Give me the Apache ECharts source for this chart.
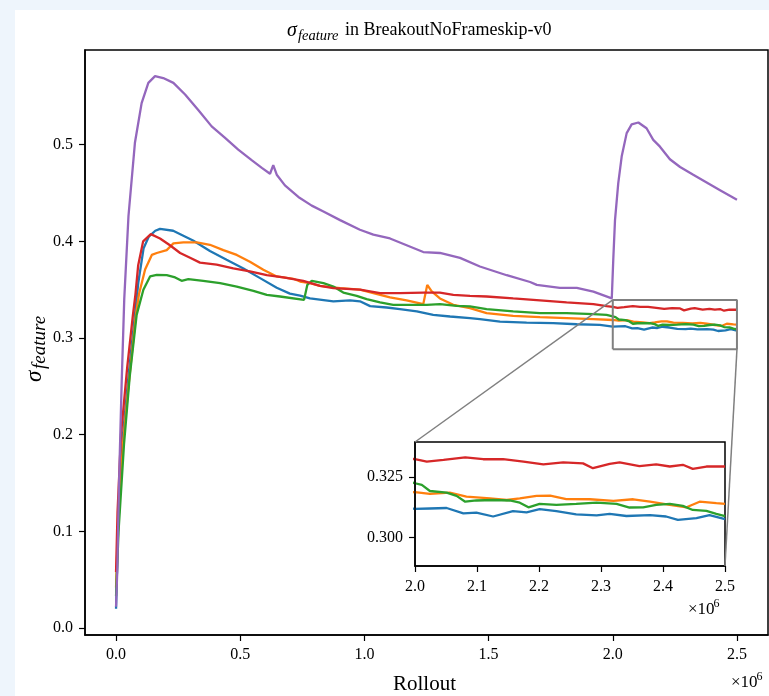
<!DOCTYPE html>
<html><head><meta charset="utf-8">
<script src="https://cdn.jsdelivr.net/npm/echarts@6/dist/echarts.min.js"></script>
<style>
html,body{margin:0;padding:0;background:#eef5fc;overflow:hidden;}
#bg{position:absolute;left:15px;top:10px;width:754px;height:686px;background:#fff;}
#chart{position:absolute;left:0;top:0;width:769px;height:696px;}
</style></head><body><div id="bg"></div><div id="chart"></div>
<script>
// x values in units of 1e6 rollouts
const blueData = [[0,0.020],[0.008,0.10],[0.028,0.20],[0.05,0.26],[0.076,0.324],[0.09,0.358],[0.111,0.393],[0.132,0.405],[0.158,0.411],[0.177,0.413],[0.23,0.411],[0.31,0.401],[0.378,0.39],[0.445,0.381],[0.513,0.372],[0.58,0.362],[0.647,0.352],[0.7,0.346],[0.741,0.344],[0.781,0.341],[0.875,0.338],[0.942,0.339],[0.982,0.338],[1.023,0.333],[1.09,0.3316],[1.143,0.330],[1.211,0.3277],[1.277,0.324],[1.345,0.3223],[1.425,0.3206],[1.465,0.3195],[1.546,0.317],[1.653,0.316],[1.76,0.3154],[1.855,0.3143],[1.948,0.3137],[2.0,0.3118],[2.024,0.312],[2.051,0.3122],[2.078,0.310],[2.099,0.3103],[2.126,0.3087],[2.158,0.3109],[2.18,0.3104],[2.201,0.3117],[2.228,0.3109],[2.26,0.3096],[2.293,0.3092],[2.314,0.3098],[2.341,0.3089],[2.379,0.3093],[2.405,0.3087],[2.424,0.3073],[2.454,0.308],[2.475,0.3093],[2.5,0.3076]];
const orangeData = [[0,0.042],[0.01,0.12],[0.028,0.19],[0.05,0.25],[0.08,0.324],[0.092,0.345],[0.117,0.371],[0.144,0.386],[0.164,0.388],[0.204,0.391],[0.231,0.398],[0.271,0.399],[0.325,0.399],[0.378,0.3965],[0.432,0.391],[0.486,0.386],[0.539,0.379],[0.593,0.3706],[0.647,0.3637],[0.714,0.3613],[0.741,0.3585],[0.781,0.3568],[0.821,0.354],[0.902,0.3516],[0.982,0.350],[1.036,0.3465],[1.103,0.342],[1.17,0.3389],[1.237,0.3351],[1.253,0.355],[1.271,0.3482],[1.304,0.341],[1.358,0.3344],[1.425,0.331],[1.492,0.3258],[1.599,0.323],[1.707,0.3216],[1.814,0.3206],[1.922,0.3195],[2.0,0.3187],[2.024,0.318],[2.056,0.3185],[2.083,0.3169],[2.121,0.3162],[2.148,0.3155],[2.169,0.3162],[2.196,0.3172],[2.218,0.3173],[2.244,0.3159],[2.282,0.3158],[2.32,0.3151],[2.352,0.3158],[2.379,0.3148],[2.411,0.3135],[2.438,0.3125],[2.459,0.3148],[2.486,0.3142],[2.5,0.3139]];
const greenData = [[0,0.033],[0.01,0.10],[0.032,0.19],[0.055,0.26],[0.083,0.324],[0.11,0.35],[0.137,0.3637],[0.164,0.3654],[0.204,0.365],[0.238,0.3627],[0.264,0.3592],[0.291,0.361],[0.351,0.3592],[0.419,0.3568],[0.486,0.3533],[0.553,0.3489],[0.607,0.3447],[0.66,0.343],[0.757,0.3395],[0.770,0.355],[0.788,0.3592],[0.835,0.3568],[0.875,0.3533],[0.915,0.3471],[0.969,0.3437],[1.009,0.3402],[1.063,0.3368],[1.116,0.3344],[1.184,0.3344],[1.251,0.3344],[1.304,0.3351],[1.371,0.3333],[1.425,0.3327],[1.492,0.33],[1.599,0.3277],[1.707,0.3258],[1.814,0.3258],[1.922,0.3248],[1.975,0.324],[2.0,0.3224],[2.011,0.3217],[2.024,0.3192],[2.051,0.3185],[2.067,0.3172],[2.081,0.3148],[2.099,0.3153],[2.126,0.3155],[2.153,0.3153],[2.169,0.3144],[2.183,0.3125],[2.201,0.3139],[2.228,0.3135],[2.26,0.3139],[2.293,0.3144],[2.325,0.3139],[2.346,0.3124],[2.368,0.3125],[2.389,0.3135],[2.411,0.3139],[2.432,0.3131],[2.448,0.3114],[2.47,0.311],[2.486,0.3098],[2.5,0.3089]];
const redData = [[0,0.058],[0.006,0.12],[0.02,0.20],[0.045,0.27],[0.068,0.324],[0.078,0.345],[0.089,0.375],[0.109,0.40],[0.14,0.4075],[0.177,0.403],[0.217,0.396],[0.258,0.388],[0.298,0.383],[0.338,0.378],[0.405,0.376],[0.472,0.372],[0.539,0.369],[0.607,0.365],[0.674,0.3627],[0.754,0.3592],[0.821,0.354],[0.875,0.3516],[0.982,0.350],[1.063,0.3465],[1.143,0.3465],[1.237,0.347],[1.304,0.347],[1.358,0.3447],[1.425,0.3437],[1.492,0.343],[1.599,0.341],[1.707,0.339],[1.814,0.337],[1.922,0.335],[1.975,0.333],[2.0,0.3323],[2.019,0.3313],[2.046,0.332],[2.081,0.3331],[2.11,0.3323],[2.142,0.3323],[2.175,0.3313],[2.207,0.3302],[2.239,0.331],[2.271,0.3306],[2.287,0.3286],[2.314,0.3304],[2.33,0.331],[2.362,0.3295],[2.389,0.3302],[2.411,0.3293],[2.432,0.33],[2.448,0.3283],[2.47,0.3293],[2.5,0.3293]];
const purpleData = [[0,0.022],[0.005,0.06],[0.012,0.15],[0.023,0.257],[0.033,0.34],[0.05,0.426],[0.076,0.502],[0.103,0.543],[0.13,0.564],[0.157,0.571],[0.19,0.569],[0.231,0.564],[0.278,0.552],[0.331,0.536],[0.385,0.519],[0.439,0.507],[0.492,0.495],[0.546,0.484],[0.587,0.476],[0.62,0.470],[0.633,0.479],[0.647,0.469],[0.68,0.458],[0.734,0.446],[0.788,0.437],[0.835,0.431],[0.902,0.422],[0.982,0.412],[1.036,0.407],[1.103,0.403],[1.17,0.396],[1.237,0.389],[1.304,0.388],[1.385,0.383],[1.465,0.374],[1.573,0.365],[1.667,0.358],[1.694,0.355],[1.787,0.352],[1.855,0.352],[1.922,0.348],[1.996,0.341],[2.002,0.381],[2.009,0.422],[2.022,0.46],[2.036,0.488],[2.056,0.512],[2.076,0.521],[2.103,0.523],[2.136,0.517],[2.163,0.505],[2.19,0.498],[2.23,0.485],[2.271,0.477],[2.324,0.469],[2.378,0.461],[2.432,0.453],[2.5,0.443]];

const seriesList = [blueData, orangeData, greenData, redData, purpleData];
const seriesColors = ['#1f77b4', '#ff7f0e', '#2ca02c', '#d62728', '#9467bd'];

const mainXTicks = [0, 0.5, 1.0, 1.5, 2.0, 2.5];
const mainYTicks = [0, 0.1, 0.2, 0.3, 0.4, 0.5];
const insetXTicks = [2.0, 2.1, 2.2, 2.3, 2.4, 2.5];
const insetYTicks = [0.300, 0.325];
const mainXRange = [-0.125, 2.625];
const mainYRange = [-0.0072, 0.598];
const insetXRange = [2.0, 2.5];
const insetYRange = [0.2883, 0.3394];

const FONT = '"Liberation Serif", "DejaVu Serif", serif';
const chart = echarts.init(document.getElementById('chart'), null, {renderer: 'canvas'});

function valueAxis(gridIndex, range, ticks, digits, margin, pos, z) {
  return {
    type: 'value', gridIndex: gridIndex, min: range[0], max: range[1], position: pos, z: z,
    axisLine: {show: true, onZero: false, lineStyle: {color: '#000', width: 1.5}},
    axisTick: {show: true, length: 6, customValues: ticks, lineStyle: {color: '#000', width: 1.2}},
    axisLabel: {customValues: ticks, margin: margin, color: '#000', fontFamily: FONT, fontSize: 16,
      formatter: v => Number(v).toFixed(digits)},
    splitLine: {show: false}
  };
}

const series = [];
seriesList.forEach((d, i) => {
  series.push({type: 'line', xAxisIndex: 0, yAxisIndex: 0, data: d, showSymbol: false, symbol: 'none',
    lineStyle: {color: seriesColors[i], width: 2.3}, clip: true, z: 2 + i, silent: true});
  series.push({type: 'line', xAxisIndex: 1, yAxisIndex: 1, data: d, showSymbol: false, symbol: 'none',
    lineStyle: {color: seriesColors[i], width: 2.3}, clip: true, z: 12 + i, silent: true});
});
// zoom indicator rectangle in main axes
series.push({type: 'line', xAxisIndex: 0, yAxisIndex: 0, showSymbol: false, symbol: 'none', silent: true, z: 9,
  data: [[insetXRange[0], insetYRange[0]], [insetXRange[1], insetYRange[0]], [insetXRange[1], insetYRange[1]],
         [insetXRange[0], insetYRange[1]], [insetXRange[0], insetYRange[0]]],
  lineStyle: {color: '#808080', width: 2}, clip: false});

chart.setOption({
  animation: false,
  grid: [
    {left: 85, top: 50, width: 683, height: 585, show: true, borderColor: '#000', borderWidth: 1.5, backgroundColor: 'transparent', z: 0},
    {left: 415, top: 442, width: 310, height: 124, show: true, borderColor: '#000', borderWidth: 1.5, backgroundColor: '#fff', z: 10}
  ],
  xAxis: [valueAxis(0, mainXRange, mainXTicks, 1, 12, 'bottom', 1), valueAxis(1, insetXRange, insetXTicks, 1, 13, 'bottom', 20)],
  yAxis: [valueAxis(0, mainYRange, mainYTicks, 1, 12, 'left', 1), valueAxis(1, insetYRange, insetYTicks, 3, 12, 'left', 20)],
  series: series
});

const rTL = chart.convertToPixel({xAxisIndex: 0, yAxisIndex: 0}, [insetXRange[0], insetYRange[1]]);
const iTL = chart.convertToPixel({xAxisIndex: 1, yAxisIndex: 1}, [insetXRange[0], insetYRange[1]]);
const rBR = chart.convertToPixel({xAxisIndex: 0, yAxisIndex: 0}, [insetXRange[1], insetYRange[0]]);
const iBR = chart.convertToPixel({xAxisIndex: 1, yAxisIndex: 1}, [insetXRange[1], insetYRange[0]]);

function txt(x, y, text, size, opts) {
  return {type: 'text', x: x, y: y, silent: true,
    style: Object.assign({text: text, fill: '#000', fontFamily: FONT, fontSize: size, align: 'left', verticalAlign: 'middle'}, (opts || {}))};
}

chart.setOption({
  graphic: [
    {type: 'line', shape: {x1: rTL[0], y1: rTL[1], x2: iTL[0], y2: iTL[1]}, style: {stroke: '#808080', lineWidth: 1.5}, z: 30, silent: true},
    {type: 'line', shape: {x1: rBR[0], y1: rBR[1], x2: iBR[0], y2: iBR[1]}, style: {stroke: '#808080', lineWidth: 1.5}, z: 30, silent: true},
    // title
    txt(287, 31, 'σ', 20, {fontStyle: 'italic'}),
    txt(298, 36, 'feature', 14.5, {fontStyle: 'italic'}),
    txt(345, 30, 'in BreakoutNoFrameskip-v0', 18),
    // x axis label
    txt(424.5, 684, 'Rollout', 21, {align: 'center'}),
    // x10^6 main
    txt(731, 683, '×10', 17),
    txt(756.5, 677, '6', 12),
    // x10^6 inset
    txt(688, 610, '×10', 17),
    txt(713.5, 604, '6', 12),
    // y axis label rotated
    {type: 'group', x: 35, y: 345, rotation: Math.PI / 2, silent: true, children: [
      txt(-37, 0, 'σ', 23, {fontStyle: 'italic'}),
      txt(-24, 5, 'feature', 19, {fontStyle: 'italic'})
    ]}
  ]
});
</script></body></html>
